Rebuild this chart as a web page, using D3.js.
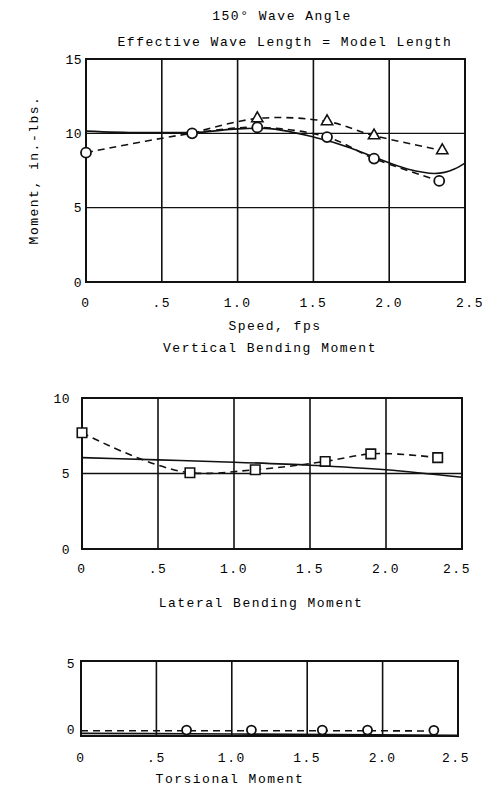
<!DOCTYPE html>
<html>
<head>
<meta charset="utf-8">
<script src="https://cdn.jsdelivr.net/npm/d3@7"></script>
<style>
  body { margin: 0; background: #fff; }
  svg { display: block; }
  text { font-family: "Liberation Mono", "DejaVu Sans Mono", monospace; font-size: 13px; fill: #000; letter-spacing: 1.5px; }
</style>
</head>
<body>
<svg id="chart" width="504" height="790"></svg>
<script>
// ---------- DATA ----------
const xTicks = [0, 0.5, 1.0, 1.5, 2.0, 2.5];
const xTickLabels = ["0", ".5", "1.0", "1.5", "2.0", "2.5"];

// Vertical bending moment
const vbmYTicks = [0, 5, 10, 15];
const vbmCircleSpeed = [0, 0.7, 1.13, 1.59, 1.9, 2.33];
const vbmCircleValue = [8.7, 10.0, 10.4, 9.75, 8.3, 6.8];
const vbmTriangleSpeed = [1.13, 1.59, 1.9, 2.35];
const vbmTriangleValue = [11.0, 10.8, 9.85, 8.85];
const vbmTheorySpeed = [0, 0.35, 0.7, 1.0, 1.15, 1.5, 1.75, 1.9, 2.12, 2.3, 2.43, 2.5];
const vbmTheoryValue = [10.15, 10.05, 10.05, 10.3, 10.35, 9.75, 9.0, 8.4, 7.6, 7.3, 7.6, 8.0];

// Lateral bending moment
const lbmYTicks = [0, 5, 10];
const lbmSquareSpeed = [0, 0.71, 1.14, 1.6, 1.9, 2.34];
const lbmSquareValue = [7.7, 5.05, 5.25, 5.8, 6.3, 6.05];
const lbmTheorySpeed = [0, 0.5, 1.0, 1.5, 2.0, 2.5];
const lbmTheoryValue = [6.05, 5.9, 5.75, 5.55, 5.25, 4.75];

// Torsional moment
const tmYTicks = [0, 5];
const tmDashSpeed = [0, 0.7, 1.13, 1.6, 1.9, 2.34];
const tmDashValue = [-0.1, -0.1, -0.1, -0.1, -0.1, -0.12];
const tmCircleSpeed = [0.7, 1.13, 1.6, 1.9, 2.34];
const tmCircleValue = [-0.05, -0.05, -0.05, -0.05, -0.07];
const tmTheorySpeed = [0, 1.0, 2.5];
const tmTheoryValue = [-0.3, -0.35, -0.45];

// ---------- DRAW ----------
const svg = d3.select("#chart");

function zip(xs, ys) { return xs.map((x, i) => [x, ys[i]]); }

function panel(cfg) {
  const g = svg.append("g");
  const x = d3.scaleLinear().domain([0, 2.5]).range([cfg.left, cfg.right]);
  const y = d3.scaleLinear().domain(cfg.yDomain).range([cfg.bottom, cfg.top]);

  g.selectAll(".vg").data(xTicks.slice(1, -1)).enter().append("line")
    .attr("x1", d => x(d)).attr("x2", d => x(d))
    .attr("y1", cfg.top).attr("y2", cfg.bottom)
    .attr("stroke", "#111").attr("stroke-width", 1.6);
  g.selectAll(".hg").data(cfg.yTicks.filter(t => t > cfg.yTicks[0] && t < cfg.yTicks[cfg.yTicks.length - 1])).enter().append("line")
    .attr("x1", cfg.left).attr("x2", cfg.right)
    .attr("y1", d => y(d)).attr("y2", d => y(d))
    .attr("stroke", "#111").attr("stroke-width", 1.4);
  g.append("rect").attr("x", cfg.left).attr("y", cfg.top)
    .attr("width", cfg.right - cfg.left).attr("height", cfg.bottom - cfg.top)
    .attr("fill", "none").attr("stroke", "#111").attr("stroke-width", 2);

  g.selectAll(".xl").data(xTicks).enter().append("text")
    .attr("x", d => x(d) + (cfg.xLabelShift ? cfg.xLabelShift(d) : 0))
    .attr("y", cfg.xLabelY).attr("text-anchor", "middle").attr("dy", "0.35em")
    .text((d, i) => xTickLabels[i]);
  g.selectAll(".yl").data(cfg.yTicks).enter().append("text")
    .attr("x", cfg.yLabelX).attr("y", d => y(d)).attr("text-anchor", "end").attr("dy", "0.35em")
    .style("letter-spacing", "0.5px")
    .text(d => d);

  return { g, x, y };
}

function curve(p, data, dashed, type) {
  const line = d3.line().x(d => p.x(d[0])).y(d => p.y(d[1])).curve(type || d3.curveCatmullRom.alpha(0.5));
  p.g.append("path").datum(data).attr("d", line)
    .attr("fill", "none").attr("stroke", "#111").attr("stroke-width", 1.6)
    .attr("stroke-dasharray", dashed ? "7,5" : null);
}
function circles(p, data, r) {
  p.g.selectAll(null).data(data).enter().append("circle")
    .attr("cx", d => p.x(d[0])).attr("cy", d => p.y(d[1])).attr("r", r || 5)
    .attr("fill", "#fff").attr("stroke", "#111").attr("stroke-width", 1.8);
}
function triangles(p, data) {
  const sym = d3.symbol().type(d3.symbolTriangle).size(55);
  p.g.selectAll(null).data(data).enter().append("path")
    .attr("d", sym).attr("transform", d => `translate(${p.x(d[0])},${p.y(d[1])})`)
    .attr("fill", "#fff").attr("stroke", "#111").attr("stroke-width", 1.6);
}
function squares(p, data) {
  const sym = d3.symbol().type(d3.symbolSquare).size(90);
  p.g.selectAll(null).data(data).enter().append("path")
    .attr("d", sym).attr("transform", d => `translate(${p.x(d[0])},${p.y(d[1])})`)
    .attr("fill", "#fff").attr("stroke", "#111").attr("stroke-width", 1.6);
}

// Titles
svg.append("text").attr("x", 282).attr("y", 15).attr("text-anchor", "middle").attr("dy", "0.35em").text("150° Wave Angle");
svg.append("text").attr("x", 285).attr("y", 41).attr("text-anchor", "middle").attr("dy", "0.35em").text("Effective Wave Length = Model Length");

// Panel 1: Vertical bending moment
const p1 = panel({ left: 86, right: 465, top: 59, bottom: 282, yDomain: [0, 15], yTicks: vbmYTicks,
  xLabelY: 302, yLabelX: 82, xLabelShift: d => (d === 2.5 ? 5 : 0) });
curve(p1, zip(vbmTheorySpeed, vbmTheoryValue), false, d3.curveMonotoneX);
const vbmCirc = zip(vbmCircleSpeed, vbmCircleValue);
curve(p1, vbmCirc, true);
curve(p1, [vbmCirc[1]].concat(zip(vbmTriangleSpeed, vbmTriangleValue)), true);
circles(p1, vbmCirc);
triangles(p1, zip(vbmTriangleSpeed, vbmTriangleValue));
svg.append("text").attr("transform", "translate(33,170) rotate(-90)").attr("text-anchor", "middle").attr("dy", "0.35em").text("Moment, in.-lbs.");
svg.append("text").attr("x", 275).attr("y", 325).attr("text-anchor", "middle").attr("dy", "0.35em").text("Speed, fps");
svg.append("text").attr("x", 270).attr("y", 347).attr("text-anchor", "middle").attr("dy", "0.35em").text("Vertical Bending Moment");

// Panel 2: Lateral bending moment
const p2 = panel({ left: 82, right: 462, top: 398, bottom: 549, yDomain: [0, 10], yTicks: lbmYTicks,
  xLabelY: 568, yLabelX: 70, xLabelShift: d => (d === 2.5 ? -5 : 0) });
curve(p2, zip(lbmTheorySpeed, lbmTheoryValue), false, d3.curveMonotoneX);
curve(p2, zip(lbmSquareSpeed, lbmSquareValue), true, d3.curveCatmullRom.alpha(1));
squares(p2, zip(lbmSquareSpeed, lbmSquareValue));
svg.append("text").attr("x", 261).attr("y", 602).attr("text-anchor", "middle").attr("dy", "0.35em").text("Lateral Bending Moment");

// Panel 3: Torsional moment
const p3 = panel({ left: 81, right: 458, top: 661, bottom: 736, yDomain: [-0.5, 5.2], yTicks: tmYTicks,
  xLabelY: 757, yLabelX: 75, xLabelShift: d => (d === 2.5 ? -2 : 0) });
curve(p3, zip(tmTheorySpeed, tmTheoryValue), false, d3.curveMonotoneX);
curve(p3, zip(tmDashSpeed, tmDashValue), true, d3.curveLinear);
circles(p3, zip(tmCircleSpeed, tmCircleValue), 4.5);
svg.append("text").attr("x", 230).attr("y", 778).attr("text-anchor", "middle").attr("dy", "0.35em").text("Torsional Moment");
</script>
</body>
</html>
